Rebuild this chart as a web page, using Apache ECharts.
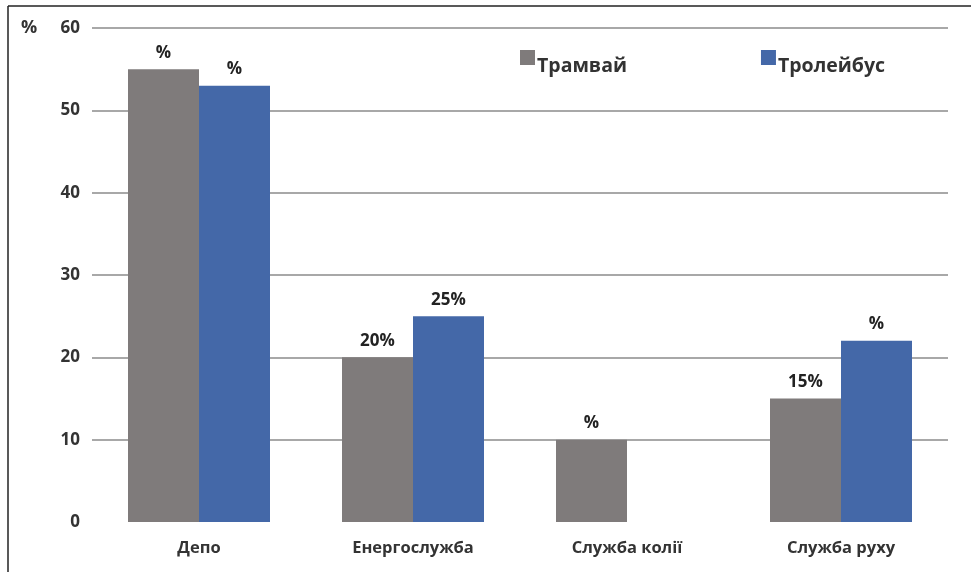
<!DOCTYPE html>
<html>
<head>
<meta charset="utf-8">
<script src="https://cdn.jsdelivr.net/npm/echarts@6/dist/echarts.min.js"></script>
<style>html,body{margin:0;padding:0;background:#fff}#c{width:971px;height:572px}</style>
</head>
<body>
<div id="c"></div>
<script>
const categories = ['Депо', 'Енергослужба', 'Служба колії', 'Служба руху'];
const seriesNames = ['Трамвай', 'Тролейбус'];
const tramValues = [55, 20, 10, 15];
const trolleyValues = [53, 25, null, 22];
const tramLabels = ['%', '20%', '%', '15%'];
const trolleyLabels = ['%', '25%', '', '%'];
const yTicks = [0, 10, 20, 30, 40, 50, 60];

const font = '"Open Sans", "DejaVu Sans", sans-serif';
const chart = echarts.init(document.getElementById('c'));
chart.setOption({
  animation: false,
  backgroundColor: '#fff',
  textStyle: { fontFamily: font },
  graphic: [
    { type: 'line', shape: { x1: 8, y1: 6, x2: 971, y2: 6 }, style: { stroke: '#222', lineWidth: 1.5 } },
    { type: 'line', shape: { x1: 8, y1: 6, x2: 8, y2: 572 }, style: { stroke: '#222', lineWidth: 1.5 } },
    { type: 'text', left: 21, top: 19, style: { text: '%', font: 'bold 18px ' + font, fill: '#333' } }
  ],
  legend: {
    left: 515, top: 45,
    itemWidth: 15, itemHeight: 15, itemGap: 134,
    icon: 'rect',
    formatter: n => '{t|' + n + '}',
    textStyle: {
      fontSize: 19, fontWeight: 'bold', color: '#333',
      rich: { t: { fontSize: 19.5, fontWeight: 'bold', color: '#333', padding: [18, 0, 0, -3] } }
    },
    data: seriesNames
  },
  grid: { left: 92, right: 23, top: 28, bottom: 50 },
  xAxis: {
    type: 'category',
    data: categories,
    axisLine: { show: false },
    axisTick: { show: false },
    axisLabel: { fontSize: 16.5, fontWeight: 'bold', color: '#333', margin: 18 }
  },
  yAxis: {
    type: 'value',
    min: yTicks[0], max: yTicks[yTicks.length - 1], interval: 10,
    axisLine: { show: false },
    axisTick: { show: false },
    axisLabel: { fontSize: 17, fontWeight: 'bold', color: '#333', margin: 12 },
    splitLine: { lineStyle: { color: ['rgba(0,0,0,0)', '#a8a8a8', '#a8a8a8', '#a8a8a8', '#a8a8a8', '#a8a8a8', '#a8a8a8'], width: 2 } }
  },
  series: [
    {
      name: seriesNames[0], type: 'bar', data: tramValues,
      barWidth: 71, barGap: '0%',
      itemStyle: { color: '#7f7b7b' },
      label: { show: true, position: 'top', distance: 8, fontSize: 17, fontWeight: 'bold', color: '#222',
        formatter: p => tramLabels[p.dataIndex] }
    },
    {
      name: seriesNames[1], type: 'bar', data: trolleyValues,
      barWidth: 71, barGap: '0%',
      itemStyle: { color: '#4468a8' },
      label: { show: true, position: 'top', distance: 8, fontSize: 17, fontWeight: 'bold', color: '#222',
        formatter: p => trolleyLabels[p.dataIndex] }
    }
  ]
});
</script>
</body>
</html>
